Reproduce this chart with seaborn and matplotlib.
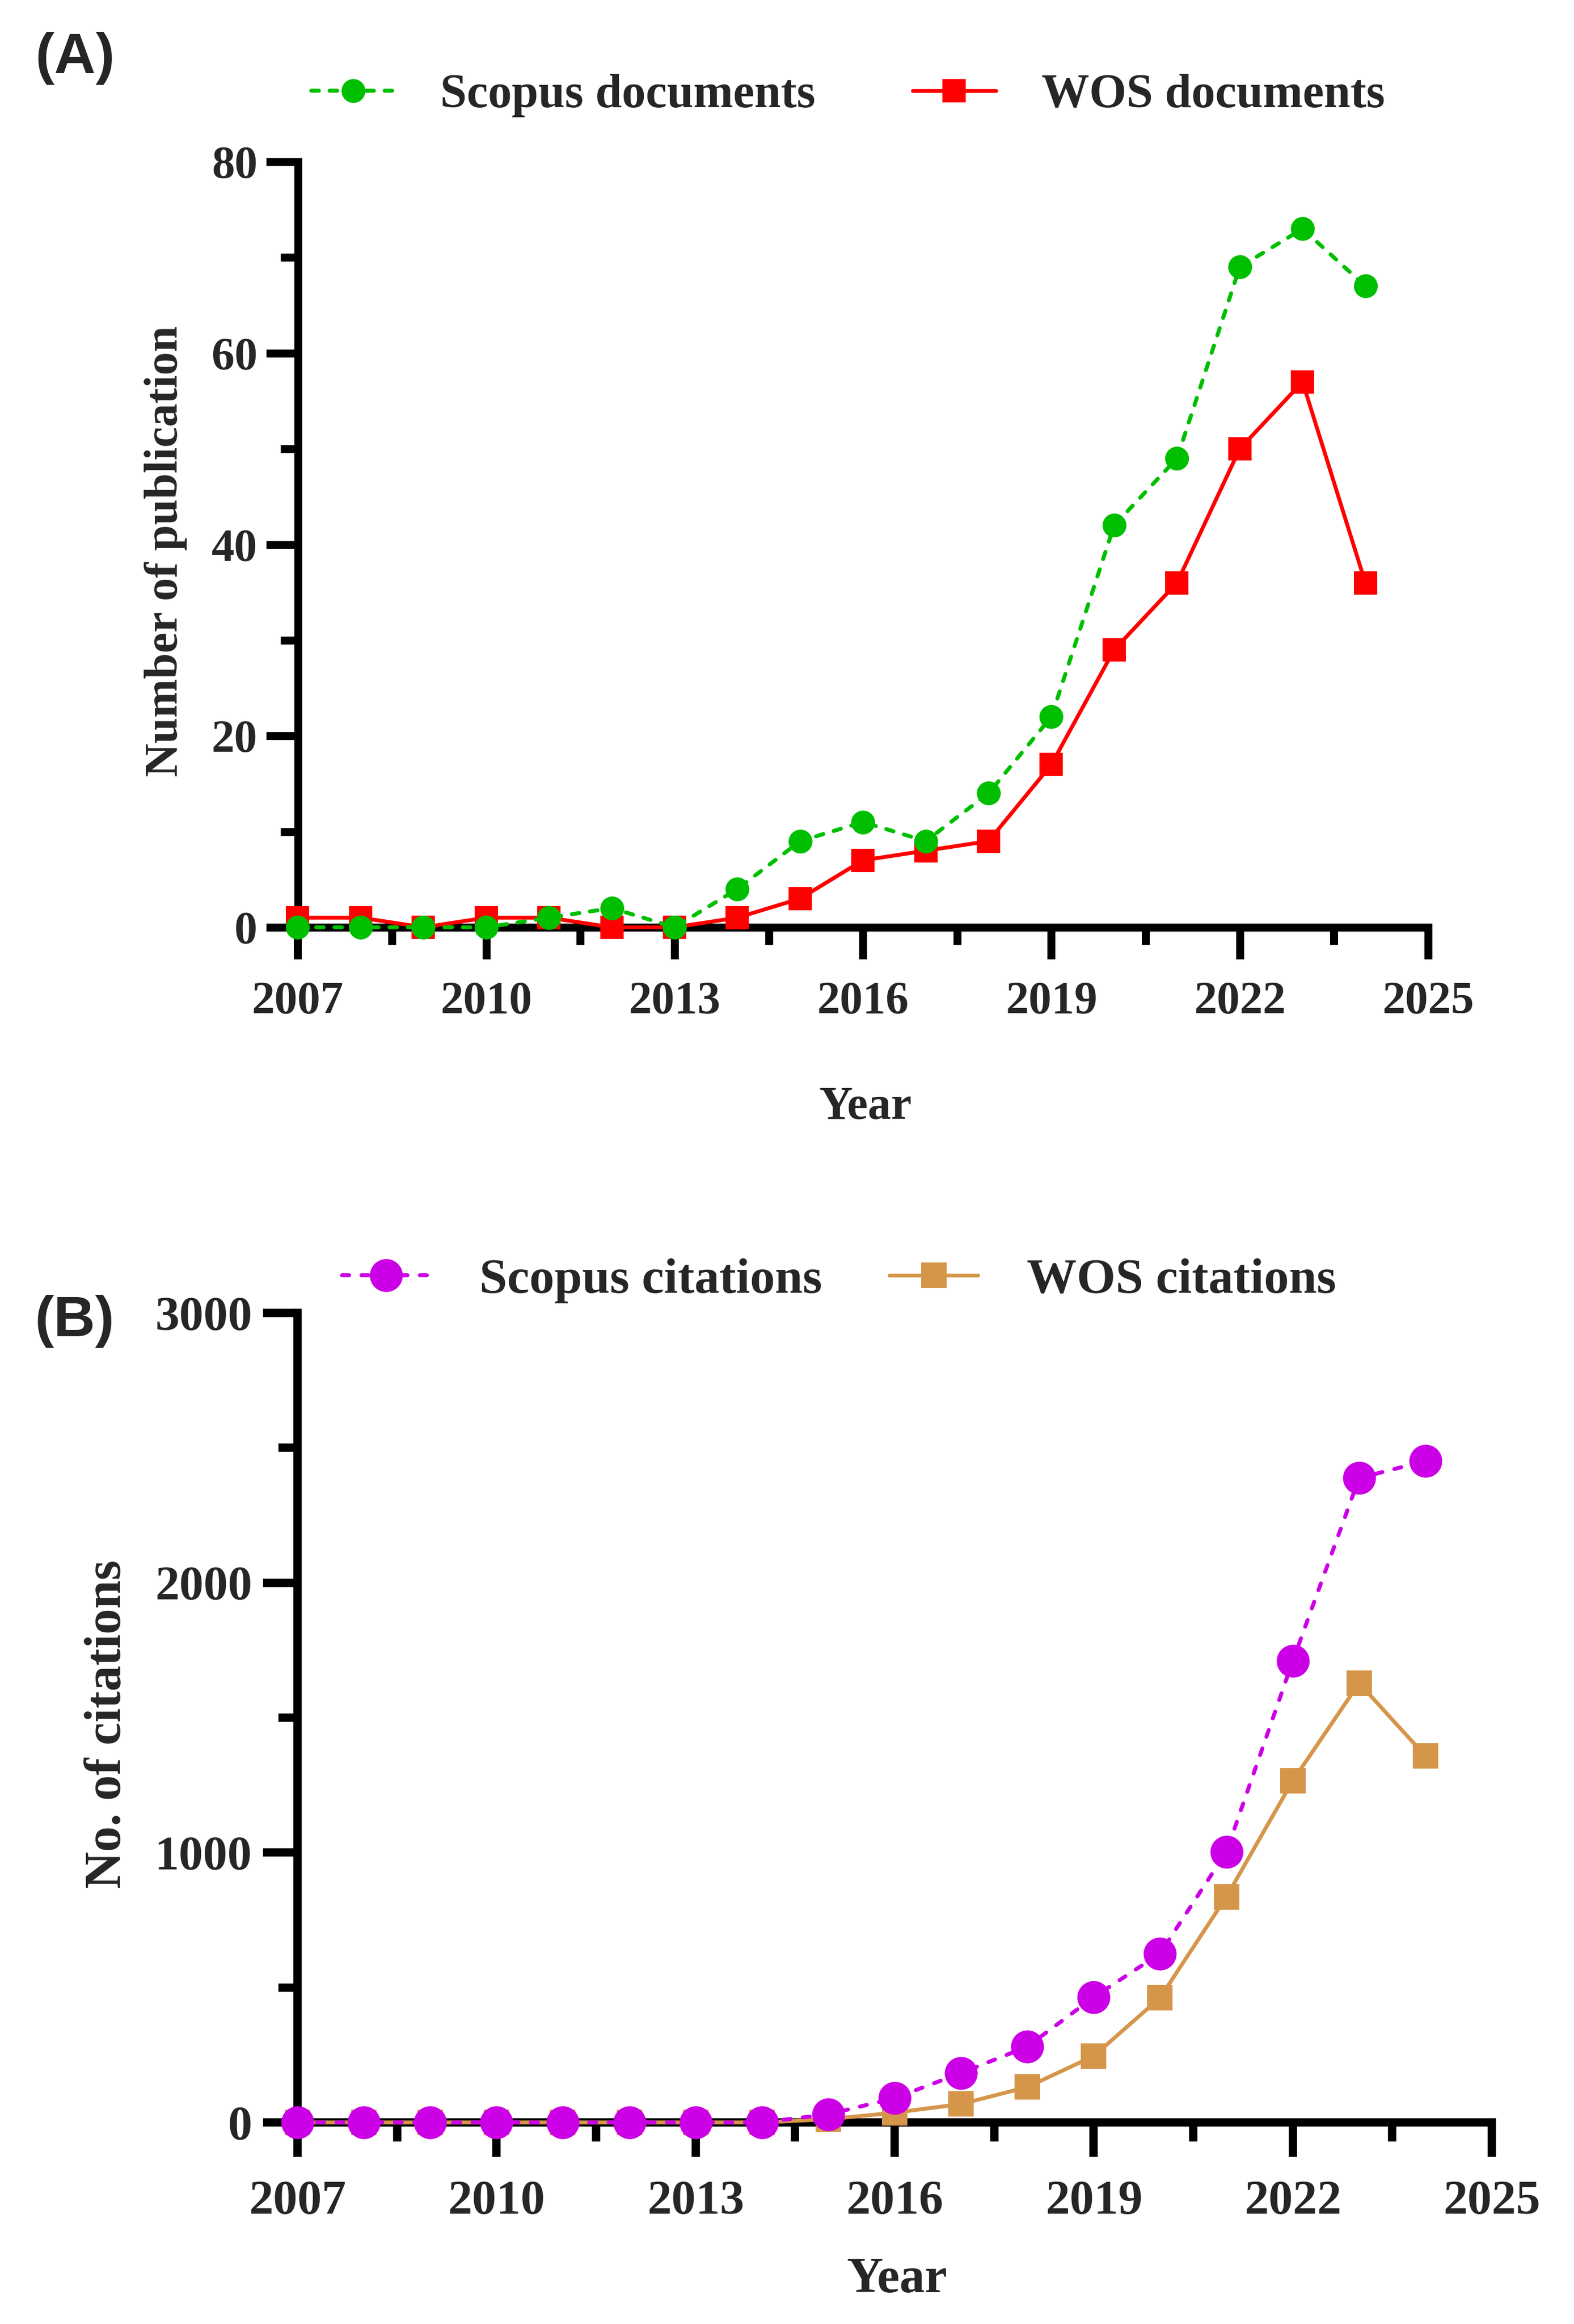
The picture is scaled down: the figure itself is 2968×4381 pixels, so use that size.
import matplotlib
matplotlib.use("Agg")
import matplotlib.pyplot as plt
from matplotlib.ticker import MultipleLocator
import seaborn as sns
import pandas as pd

# ---------------- data ----------------
years = list(range(2007, 2025))
scopus_docs = [0, 0, 0, 0, 1, 2, 0, 4, 9, 11, 9, 14, 22, 42, 49, 69, 73, 67]
wos_docs = [1, 1, 0, 1, 1, 0, 0, 1, 3, 7, 8, 9, 17, 29, 36, 50, 57, 36]
scopus_cit = [0, 0, 0, 0, 0, 0, 0, 0, 30, 90, 183, 281, 464, 626, 1003, 1710, 2388, 2451]
wos_cit = [0, 0, 0, 0, 0, 0, 0, 0, 12, 36, 68, 131, 246, 462, 836, 1266, 1628, 1358]

labels_a = ["Scopus documents", "WOS documents"]
labels_b = ["Scopus citations", "WOS citations"]
x_ticks = [2007, 2010, 2013, 2016, 2019, 2022, 2025]

# ---------------- style ----------------
sns.set_theme(style="ticks")
plt.rcParams["font.family"] = ["Liberation Serif", "DejaVu Serif"]
plt.rcParams["font.weight"] = "bold"
plt.rcParams["axes.labelweight"] = "bold"
plt.rcParams["lines.scale_dashes"] = False
plt.rcParams["axes.facecolor"] = "white"
plt.rcParams["figure.facecolor"] = "white"

GREEN = "#00BF00"
RED = "#FF0000"
MAGENTA = "#CC00E6"
ORANGE = "#D5964A"

W, H = 2968, 4381
DPI = 300
fig = plt.figure(figsize=(W / DPI, H / DPI), dpi=DPI)

# axes rectangles from spine centers (pixels)
def rect(l, r, t, b):
    return [l / W, 1 - b / H, (r - l) / W, (b - t) / H]

axA = fig.add_axes(rect(561.5, 2693, 305, 1748))
axB = fig.add_axes(rect(561, 2813, 2475, 4001))


def style_axes(ax, spine_lw, maj_len, min_len, tick_fs, xpad, ypad):
    for s in ["top", "right"]:
        ax.spines[s].set_visible(False)
    for s in ["left", "bottom"]:
        ax.spines[s].set_linewidth(spine_lw)
        ax.spines[s].set_color("black")
        ax.spines[s].set_capstyle("projecting")
    ax.tick_params(which="major", direction="out", length=maj_len, width=spine_lw,
                   color="black", labelsize=tick_fs)
    ax.tick_params(which="minor", direction="out", length=min_len, width=spine_lw,
                   color="black")
    ax.tick_params(axis="x", which="major", pad=xpad)
    ax.tick_params(axis="y", which="major", pad=ypad)
    for lab in ax.get_xticklabels() + ax.get_yticklabels():
        lab.set_fontweight("bold")
    ax.grid(False)


# ---------------- panel A ----------------
dfA = pd.DataFrame({"Year": years, "scopus": scopus_docs, "wos": wos_docs})
sns.lineplot(data=dfA, x="Year", y="scopus", ax=axA, color=GREEN, marker="o",
             markersize=10.8, markeredgewidth=0, markeredgecolor=GREEN,
             linewidth=1.8, errorbar=None, label=labels_a[0], zorder=5, clip_on=False)
lineA1 = axA.lines[-1]
sns.lineplot(data=dfA, x="Year", y="wos", ax=axA, color=RED, marker="s",
             markersize=10.6, markeredgewidth=0, markeredgecolor=RED,
             linewidth=1.75, errorbar=None, label=labels_a[1], zorder=4, clip_on=False)
lineA2 = axA.lines[-1]
lineA1.set_dashes([3.4, 4.9])
lineA1.set_dash_capstyle("round")
lineA2.set_linestyle("-")

axA.set_xlim(2007, 2025)
axA.set_ylim(0, 80)
axA.xaxis.set_major_locator(MultipleLocator(3))
axA.xaxis.set_minor_locator(MultipleLocator(1.5))
axA.yaxis.set_major_locator(MultipleLocator(20))
axA.yaxis.set_minor_locator(MultipleLocator(10))
axA.set_xticks(x_ticks)
style_axes(axA, 3.6, 14.5, 8.0, 20.8, 10.0, 3.8)

axA.set_xlabel("Year", fontsize=21, fontweight="bold")
axA.set_ylabel("Number of publication", fontsize=21, fontweight="bold")
axA.xaxis.set_label_coords(0.502, -0.2502)
axA.xaxis.label.set_va("baseline")
axA.yaxis.set_label_coords(-0.1067, 0.4913)
axA.yaxis.label.set_va("baseline")

legA = axA.legend(handles=[lineA1, lineA2], labels=labels_a, ncol=2, frameon=False,
                  loc="center left", bbox_to_anchor=(587 / W, 1 - 180 / H),
                  bbox_transform=fig.transFigure, borderaxespad=0, borderpad=0,
                  handlelength=1.745, handletextpad=0.96, columnspacing=2.03,
                  prop={"family": "Liberation Serif", "weight": "bold", "size": 21.6})

# ---------------- panel B ----------------
dfB = pd.DataFrame({"Year": years, "scopus": scopus_cit, "wos": wos_cit})
sns.lineplot(data=dfB, x="Year", y="scopus", ax=axB, color=MAGENTA, marker="o",
             markersize=14.9, markeredgewidth=0, markeredgecolor=MAGENTA,
             linewidth=1.8, errorbar=None, label=labels_b[0], zorder=5, clip_on=False)
lineB1 = axB.lines[-1]
sns.lineplot(data=dfB, x="Year", y="wos", ax=axB, color=ORANGE, marker="s",
             markersize=11.5, markeredgewidth=0, markeredgecolor=ORANGE,
             linewidth=1.75, errorbar=None, label=labels_b[1], zorder=4, clip_on=False)
lineB2 = axB.lines[-1]
lineB1.set_dashes([3.2, 5.6])
lineB1.set_dash_capstyle("round")
lineB2.set_linestyle("-")

axB.set_xlim(2007, 2025)
axB.set_ylim(0, 3000)
axB.xaxis.set_major_locator(MultipleLocator(3))
axB.xaxis.set_minor_locator(MultipleLocator(1.5))
axB.yaxis.set_major_locator(MultipleLocator(1000))
axB.yaxis.set_minor_locator(MultipleLocator(500))
axB.set_xticks(x_ticks)
style_axes(axB, 3.75, 15.5, 8.6, 22.0, 10.6, 5.0)

axB.set_xlabel("Year", fontsize=22.8, fontweight="bold")
axB.set_ylabel("No. of citations", fontsize=23.2, fontweight="bold")
axB.xaxis.set_label_coords(0.5018, -0.2097)
axB.xaxis.label.set_va("baseline")
axB.yaxis.set_label_coords(-0.1483, 0.4921)
axB.yaxis.label.set_va("baseline")

legB = axB.legend(handles=[lineB1, lineB2], labels=labels_b, ncol=2, frameon=False,
                  loc="center left", bbox_to_anchor=(645 / W, 1 - 2414 / H),
                  bbox_transform=fig.transFigure, borderaxespad=0, borderpad=0,
                  handlelength=1.77, handletextpad=0.98, columnspacing=1.35,
                  prop={"family": "Liberation Serif", "weight": "bold", "size": 22.6})

# ---------------- panel letters ----------------
fig.text(67 / W, 1 - 138 / H, "(A)", fontsize=26, fontweight="bold",
         family=["Liberation Sans", "DejaVu Sans"], ha="left", va="baseline")
fig.text(66 / W, 1 - 2519 / H, "(B)", fontsize=26, fontweight="bold",
         family=["Liberation Sans", "DejaVu Sans"], ha="left", va="baseline")

fig.savefig("out.png", dpi=DPI, facecolor="white")
